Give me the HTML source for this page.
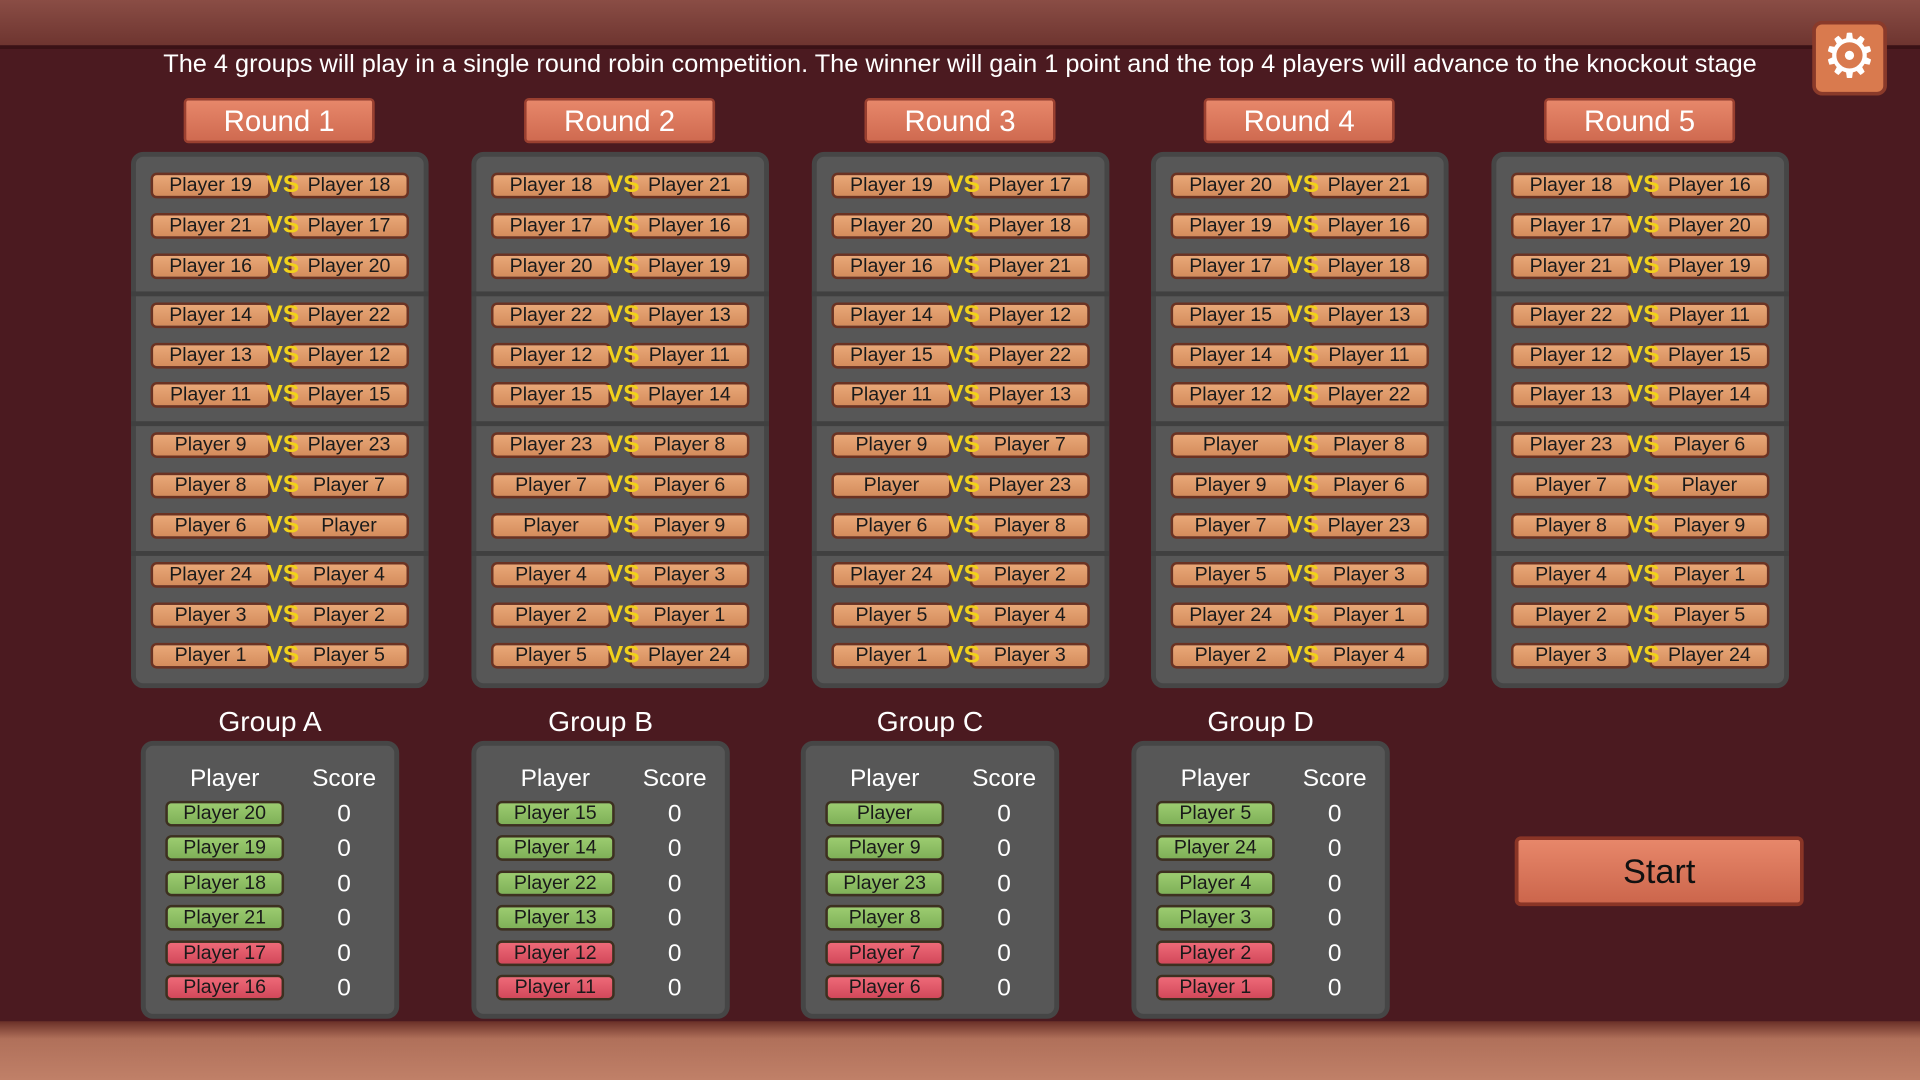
<!DOCTYPE html>
<html><head><meta charset="utf-8"><style>
*{margin:0;padding:0;box-sizing:border-box}
html,body{width:1920px;height:1080px;overflow:hidden;background:#4a1b20}
#w{position:absolute;left:0;top:0;width:1568px;height:882px;transform:scale(1.22449);transform-origin:0 0;font-family:"Liberation Sans",sans-serif;background:#4b1a20}
.top{position:absolute;left:0;top:0;width:1568px;height:40px;background:linear-gradient(#8a4d45,#6e3530);border-bottom:3px solid #3a1216}
.bot{position:absolute;left:0;top:834px;width:1568px;height:48px;background:linear-gradient(#6a3028,#b0705a 30%,#c08068)}
.info{position:absolute;left:0;width:1568px;top:41px;text-align:center;color:#fff;font-size:20.7px}
.gear{position:absolute;left:1480px;top:17px;width:61px;height:61px;background:#d97a4e;border:3px solid #8a3a2a;border-radius:8px;color:#fff;font-size:50px;line-height:52px;text-align:center}
.rh{position:absolute;top:80px;width:156px;height:37px;background:linear-gradient(#e7876a,#cf6a50);border:2px solid #9a4030;border-radius:4px;color:#fff;font-size:24px;text-align:center;line-height:35px}
.p{position:absolute;top:124px;width:243px;height:438px;background:#575757;border:4px solid #464646;border-radius:10px}
.sep{position:absolute;left:-4px;width:243px;height:4px;background:#404040}
.m{position:absolute;left:12px;width:215px;height:21px}
.m span{position:absolute;top:0;width:98px;height:21px;background:linear-gradient(#e9a878,#d48c5c);border:2px solid #6b3222;border-radius:5px;font-size:16px;color:#1a1a1a;text-align:center;line-height:17px}
.m .l{left:0}.m .r{left:113px}
.m b{position:absolute;left:91px;top:0;line-height:21px;width:34px;text-align:center;color:#f2d21a;font-size:20px;font-weight:bold;z-index:2}
.gt{position:absolute;top:576px;width:211px;text-align:center;color:#fff;font-size:23px}
.g{position:absolute;top:605px;width:211px;height:227px;background:#575757;border:4px solid #464646;border-radius:10px;color:#fff}
.hp,.hs{position:absolute;top:16px;font-size:20px;text-align:center}
.hp{left:16px;width:97px}.hs{left:122px;width:80px}
.gp{position:absolute;left:16px;width:97px;height:21px;border:2px solid #3d3020;border-radius:5px;font-size:16px;color:#1a1a1a;text-align:center;line-height:17px}
.gn{background:linear-gradient(#9ccc70,#7fb058)}.rd{background:linear-gradient(#ee6a78,#d2485a)}
.sc{position:absolute;left:122px;width:80px;text-align:center;font-size:20px}
.start{position:absolute;left:1237px;top:683px;width:236px;height:57px;background:linear-gradient(#e7876a,#cc664c);border:3px solid #8a3526;border-radius:5px;color:#111;font-size:28px;text-align:center;line-height:51px}
</style></head><body><div id="w">
<div class="top"></div><div class="bot"></div>
<div class="info">The 4 groups will play in a single round robin competition. The winner will gain 1 point and the top 4 players will advance to the knockout stage</div>
<div class="gear">⚙</div>
<div class="rh" style="left:150px">Round 1</div>
<div class="rh" style="left:428px">Round 2</div>
<div class="rh" style="left:706px">Round 3</div>
<div class="rh" style="left:983px">Round 4</div>
<div class="rh" style="left:1261px">Round 5</div>

<div class="p" style="left:107px">
<div class="sep" style="top:110px"></div><div class="sep" style="top:216px"></div><div class="sep" style="top:322px"></div>
<div class="m" style="top:13px"><span class="l">Player 19</span><b>VS</b><span class="r">Player 18</span></div>
<div class="m" style="top:46px"><span class="l">Player 21</span><b>VS</b><span class="r">Player 17</span></div>
<div class="m" style="top:79px"><span class="l">Player 16</span><b>VS</b><span class="r">Player 20</span></div>
<div class="m" style="top:119px"><span class="l">Player 14</span><b>VS</b><span class="r">Player 22</span></div>
<div class="m" style="top:152px"><span class="l">Player 13</span><b>VS</b><span class="r">Player 12</span></div>
<div class="m" style="top:184px"><span class="l">Player 11</span><b>VS</b><span class="r">Player 15</span></div>
<div class="m" style="top:225px"><span class="l">Player 9</span><b>VS</b><span class="r">Player 23</span></div>
<div class="m" style="top:258px"><span class="l">Player 8</span><b>VS</b><span class="r">Player 7</span></div>
<div class="m" style="top:291px"><span class="l">Player 6</span><b>VS</b><span class="r">Player</span></div>
<div class="m" style="top:331px"><span class="l">Player 24</span><b>VS</b><span class="r">Player 4</span></div>
<div class="m" style="top:364px"><span class="l">Player 3</span><b>VS</b><span class="r">Player 2</span></div>
<div class="m" style="top:397px"><span class="l">Player 1</span><b>VS</b><span class="r">Player 5</span></div>
</div>

<div class="p" style="left:385px">
<div class="sep" style="top:110px"></div><div class="sep" style="top:216px"></div><div class="sep" style="top:322px"></div>
<div class="m" style="top:13px"><span class="l">Player 18</span><b>VS</b><span class="r">Player 21</span></div>
<div class="m" style="top:46px"><span class="l">Player 17</span><b>VS</b><span class="r">Player 16</span></div>
<div class="m" style="top:79px"><span class="l">Player 20</span><b>VS</b><span class="r">Player 19</span></div>
<div class="m" style="top:119px"><span class="l">Player 22</span><b>VS</b><span class="r">Player 13</span></div>
<div class="m" style="top:152px"><span class="l">Player 12</span><b>VS</b><span class="r">Player 11</span></div>
<div class="m" style="top:184px"><span class="l">Player 15</span><b>VS</b><span class="r">Player 14</span></div>
<div class="m" style="top:225px"><span class="l">Player 23</span><b>VS</b><span class="r">Player 8</span></div>
<div class="m" style="top:258px"><span class="l">Player 7</span><b>VS</b><span class="r">Player 6</span></div>
<div class="m" style="top:291px"><span class="l">Player</span><b>VS</b><span class="r">Player 9</span></div>
<div class="m" style="top:331px"><span class="l">Player 4</span><b>VS</b><span class="r">Player 3</span></div>
<div class="m" style="top:364px"><span class="l">Player 2</span><b>VS</b><span class="r">Player 1</span></div>
<div class="m" style="top:397px"><span class="l">Player 5</span><b>VS</b><span class="r">Player 24</span></div>
</div>

<div class="p" style="left:663px">
<div class="sep" style="top:110px"></div><div class="sep" style="top:216px"></div><div class="sep" style="top:322px"></div>
<div class="m" style="top:13px"><span class="l">Player 19</span><b>VS</b><span class="r">Player 17</span></div>
<div class="m" style="top:46px"><span class="l">Player 20</span><b>VS</b><span class="r">Player 18</span></div>
<div class="m" style="top:79px"><span class="l">Player 16</span><b>VS</b><span class="r">Player 21</span></div>
<div class="m" style="top:119px"><span class="l">Player 14</span><b>VS</b><span class="r">Player 12</span></div>
<div class="m" style="top:152px"><span class="l">Player 15</span><b>VS</b><span class="r">Player 22</span></div>
<div class="m" style="top:184px"><span class="l">Player 11</span><b>VS</b><span class="r">Player 13</span></div>
<div class="m" style="top:225px"><span class="l">Player 9</span><b>VS</b><span class="r">Player 7</span></div>
<div class="m" style="top:258px"><span class="l">Player</span><b>VS</b><span class="r">Player 23</span></div>
<div class="m" style="top:291px"><span class="l">Player 6</span><b>VS</b><span class="r">Player 8</span></div>
<div class="m" style="top:331px"><span class="l">Player 24</span><b>VS</b><span class="r">Player 2</span></div>
<div class="m" style="top:364px"><span class="l">Player 5</span><b>VS</b><span class="r">Player 4</span></div>
<div class="m" style="top:397px"><span class="l">Player 1</span><b>VS</b><span class="r">Player 3</span></div>
</div>

<div class="p" style="left:940px">
<div class="sep" style="top:110px"></div><div class="sep" style="top:216px"></div><div class="sep" style="top:322px"></div>
<div class="m" style="top:13px"><span class="l">Player 20</span><b>VS</b><span class="r">Player 21</span></div>
<div class="m" style="top:46px"><span class="l">Player 19</span><b>VS</b><span class="r">Player 16</span></div>
<div class="m" style="top:79px"><span class="l">Player 17</span><b>VS</b><span class="r">Player 18</span></div>
<div class="m" style="top:119px"><span class="l">Player 15</span><b>VS</b><span class="r">Player 13</span></div>
<div class="m" style="top:152px"><span class="l">Player 14</span><b>VS</b><span class="r">Player 11</span></div>
<div class="m" style="top:184px"><span class="l">Player 12</span><b>VS</b><span class="r">Player 22</span></div>
<div class="m" style="top:225px"><span class="l">Player</span><b>VS</b><span class="r">Player 8</span></div>
<div class="m" style="top:258px"><span class="l">Player 9</span><b>VS</b><span class="r">Player 6</span></div>
<div class="m" style="top:291px"><span class="l">Player 7</span><b>VS</b><span class="r">Player 23</span></div>
<div class="m" style="top:331px"><span class="l">Player 5</span><b>VS</b><span class="r">Player 3</span></div>
<div class="m" style="top:364px"><span class="l">Player 24</span><b>VS</b><span class="r">Player 1</span></div>
<div class="m" style="top:397px"><span class="l">Player 2</span><b>VS</b><span class="r">Player 4</span></div>
</div>

<div class="p" style="left:1218px">
<div class="sep" style="top:110px"></div><div class="sep" style="top:216px"></div><div class="sep" style="top:322px"></div>
<div class="m" style="top:13px"><span class="l">Player 18</span><b>VS</b><span class="r">Player 16</span></div>
<div class="m" style="top:46px"><span class="l">Player 17</span><b>VS</b><span class="r">Player 20</span></div>
<div class="m" style="top:79px"><span class="l">Player 21</span><b>VS</b><span class="r">Player 19</span></div>
<div class="m" style="top:119px"><span class="l">Player 22</span><b>VS</b><span class="r">Player 11</span></div>
<div class="m" style="top:152px"><span class="l">Player 12</span><b>VS</b><span class="r">Player 15</span></div>
<div class="m" style="top:184px"><span class="l">Player 13</span><b>VS</b><span class="r">Player 14</span></div>
<div class="m" style="top:225px"><span class="l">Player 23</span><b>VS</b><span class="r">Player 6</span></div>
<div class="m" style="top:258px"><span class="l">Player 7</span><b>VS</b><span class="r">Player</span></div>
<div class="m" style="top:291px"><span class="l">Player 8</span><b>VS</b><span class="r">Player 9</span></div>
<div class="m" style="top:331px"><span class="l">Player 4</span><b>VS</b><span class="r">Player 1</span></div>
<div class="m" style="top:364px"><span class="l">Player 2</span><b>VS</b><span class="r">Player 5</span></div>
<div class="m" style="top:397px"><span class="l">Player 3</span><b>VS</b><span class="r">Player 24</span></div>
</div>

<div class="gt" style="left:115px">Group A</div>
<div class="g" style="left:115px"><div class="hp">Player</div><div class="hs">Score</div>
<div class="gp gn" style="top:45px">Player 20</div><div class="sc" style="top:45px">0</div>
<div class="gp gn" style="top:73px">Player 19</div><div class="sc" style="top:73px">0</div>
<div class="gp gn" style="top:102px">Player 18</div><div class="sc" style="top:102px">0</div>
<div class="gp gn" style="top:130px">Player 21</div><div class="sc" style="top:130px">0</div>
<div class="gp rd" style="top:159px">Player 17</div><div class="sc" style="top:159px">0</div>
<div class="gp rd" style="top:187px">Player 16</div><div class="sc" style="top:187px">0</div>
</div>

<div class="gt" style="left:385px">Group B</div>
<div class="g" style="left:385px"><div class="hp">Player</div><div class="hs">Score</div>
<div class="gp gn" style="top:45px">Player 15</div><div class="sc" style="top:45px">0</div>
<div class="gp gn" style="top:73px">Player 14</div><div class="sc" style="top:73px">0</div>
<div class="gp gn" style="top:102px">Player 22</div><div class="sc" style="top:102px">0</div>
<div class="gp gn" style="top:130px">Player 13</div><div class="sc" style="top:130px">0</div>
<div class="gp rd" style="top:159px">Player 12</div><div class="sc" style="top:159px">0</div>
<div class="gp rd" style="top:187px">Player 11</div><div class="sc" style="top:187px">0</div>
</div>

<div class="gt" style="left:654px">Group C</div>
<div class="g" style="left:654px"><div class="hp">Player</div><div class="hs">Score</div>
<div class="gp gn" style="top:45px">Player</div><div class="sc" style="top:45px">0</div>
<div class="gp gn" style="top:73px">Player 9</div><div class="sc" style="top:73px">0</div>
<div class="gp gn" style="top:102px">Player 23</div><div class="sc" style="top:102px">0</div>
<div class="gp gn" style="top:130px">Player 8</div><div class="sc" style="top:130px">0</div>
<div class="gp rd" style="top:159px">Player 7</div><div class="sc" style="top:159px">0</div>
<div class="gp rd" style="top:187px">Player 6</div><div class="sc" style="top:187px">0</div>
</div>

<div class="gt" style="left:924px">Group D</div>
<div class="g" style="left:924px"><div class="hp">Player</div><div class="hs">Score</div>
<div class="gp gn" style="top:45px">Player 5</div><div class="sc" style="top:45px">0</div>
<div class="gp gn" style="top:73px">Player 24</div><div class="sc" style="top:73px">0</div>
<div class="gp gn" style="top:102px">Player 4</div><div class="sc" style="top:102px">0</div>
<div class="gp gn" style="top:130px">Player 3</div><div class="sc" style="top:130px">0</div>
<div class="gp rd" style="top:159px">Player 2</div><div class="sc" style="top:159px">0</div>
<div class="gp rd" style="top:187px">Player 1</div><div class="sc" style="top:187px">0</div>
</div>

<div class="start">Start</div>
</div></body></html>
